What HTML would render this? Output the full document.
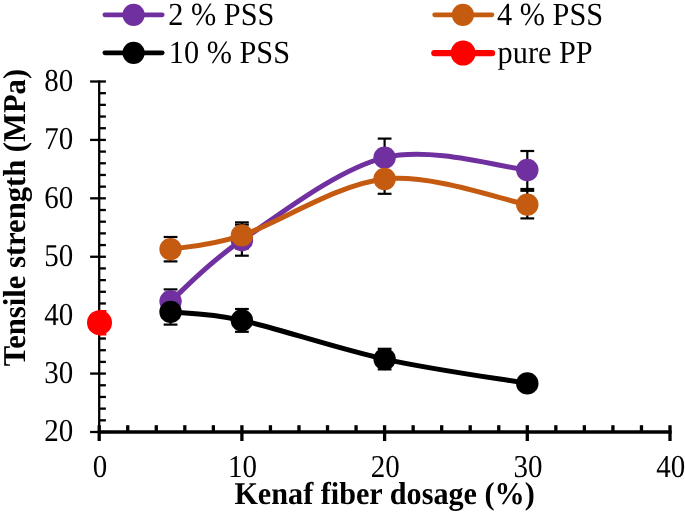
<!DOCTYPE html>
<html><head><meta charset="utf-8"><style>
html,body{margin:0;padding:0;background:#fff;width:685px;height:513px;overflow:hidden;}
svg{display:block;}
text{-webkit-font-smoothing:antialiased;text-rendering:geometricPrecision;}
.tg{opacity:0.999;}
</style></head><body><svg width="685" height="513" viewBox="0 0 685 513"><rect width="685" height="513" fill="#fff"/><line x1="99.20" y1="80.50" x2="99.20" y2="432.00" stroke="#000" stroke-width="2.3"/><line x1="90.1" y1="432.00" x2="105.9" y2="432.00" stroke="#000" stroke-width="2.3"/><line x1="99.20" y1="420.32" x2="105.9" y2="420.32" stroke="#000" stroke-width="2.3"/><line x1="99.20" y1="408.63" x2="105.9" y2="408.63" stroke="#000" stroke-width="2.3"/><line x1="99.20" y1="396.95" x2="105.9" y2="396.95" stroke="#000" stroke-width="2.3"/><line x1="99.20" y1="385.27" x2="105.9" y2="385.27" stroke="#000" stroke-width="2.3"/><line x1="90.1" y1="373.58" x2="105.9" y2="373.58" stroke="#000" stroke-width="2.3"/><line x1="99.20" y1="361.90" x2="105.9" y2="361.90" stroke="#000" stroke-width="2.3"/><line x1="99.20" y1="350.22" x2="105.9" y2="350.22" stroke="#000" stroke-width="2.3"/><line x1="99.20" y1="338.53" x2="105.9" y2="338.53" stroke="#000" stroke-width="2.3"/><line x1="99.20" y1="326.85" x2="105.9" y2="326.85" stroke="#000" stroke-width="2.3"/><line x1="90.1" y1="315.17" x2="105.9" y2="315.17" stroke="#000" stroke-width="2.3"/><line x1="99.20" y1="303.48" x2="105.9" y2="303.48" stroke="#000" stroke-width="2.3"/><line x1="99.20" y1="291.80" x2="105.9" y2="291.80" stroke="#000" stroke-width="2.3"/><line x1="99.20" y1="280.12" x2="105.9" y2="280.12" stroke="#000" stroke-width="2.3"/><line x1="99.20" y1="268.43" x2="105.9" y2="268.43" stroke="#000" stroke-width="2.3"/><line x1="90.1" y1="256.75" x2="105.9" y2="256.75" stroke="#000" stroke-width="2.3"/><line x1="99.20" y1="245.07" x2="105.9" y2="245.07" stroke="#000" stroke-width="2.3"/><line x1="99.20" y1="233.38" x2="105.9" y2="233.38" stroke="#000" stroke-width="2.3"/><line x1="99.20" y1="221.70" x2="105.9" y2="221.70" stroke="#000" stroke-width="2.3"/><line x1="99.20" y1="210.02" x2="105.9" y2="210.02" stroke="#000" stroke-width="2.3"/><line x1="90.1" y1="198.33" x2="105.9" y2="198.33" stroke="#000" stroke-width="2.3"/><line x1="99.20" y1="186.65" x2="105.9" y2="186.65" stroke="#000" stroke-width="2.3"/><line x1="99.20" y1="174.97" x2="105.9" y2="174.97" stroke="#000" stroke-width="2.3"/><line x1="99.20" y1="163.28" x2="105.9" y2="163.28" stroke="#000" stroke-width="2.3"/><line x1="99.20" y1="151.60" x2="105.9" y2="151.60" stroke="#000" stroke-width="2.3"/><line x1="90.1" y1="139.92" x2="105.9" y2="139.92" stroke="#000" stroke-width="2.3"/><line x1="99.20" y1="128.23" x2="105.9" y2="128.23" stroke="#000" stroke-width="2.3"/><line x1="99.20" y1="116.55" x2="105.9" y2="116.55" stroke="#000" stroke-width="2.3"/><line x1="99.20" y1="104.87" x2="105.9" y2="104.87" stroke="#000" stroke-width="2.3"/><line x1="99.20" y1="93.18" x2="105.9" y2="93.18" stroke="#000" stroke-width="2.3"/><line x1="90.1" y1="81.50" x2="105.9" y2="81.50" stroke="#000" stroke-width="2.3"/><line x1="98.20" y1="432.00" x2="671.60" y2="432.00" stroke="#000" stroke-width="3.3"/><line x1="99.20" y1="425.2" x2="99.20" y2="441" stroke="#000" stroke-width="3.3"/><line x1="127.74" y1="425.2" x2="127.74" y2="432.00" stroke="#000" stroke-width="3.3"/><line x1="156.28" y1="425.2" x2="156.28" y2="432.00" stroke="#000" stroke-width="3.3"/><line x1="184.82" y1="425.2" x2="184.82" y2="432.00" stroke="#000" stroke-width="3.3"/><line x1="213.36" y1="425.2" x2="213.36" y2="432.00" stroke="#000" stroke-width="3.3"/><line x1="241.90" y1="425.2" x2="241.90" y2="441" stroke="#000" stroke-width="3.3"/><line x1="270.44" y1="425.2" x2="270.44" y2="432.00" stroke="#000" stroke-width="3.3"/><line x1="298.98" y1="425.2" x2="298.98" y2="432.00" stroke="#000" stroke-width="3.3"/><line x1="327.52" y1="425.2" x2="327.52" y2="432.00" stroke="#000" stroke-width="3.3"/><line x1="356.06" y1="425.2" x2="356.06" y2="432.00" stroke="#000" stroke-width="3.3"/><line x1="384.60" y1="425.2" x2="384.60" y2="441" stroke="#000" stroke-width="3.3"/><line x1="413.14" y1="425.2" x2="413.14" y2="432.00" stroke="#000" stroke-width="3.3"/><line x1="441.68" y1="425.2" x2="441.68" y2="432.00" stroke="#000" stroke-width="3.3"/><line x1="470.22" y1="425.2" x2="470.22" y2="432.00" stroke="#000" stroke-width="3.3"/><line x1="498.76" y1="425.2" x2="498.76" y2="432.00" stroke="#000" stroke-width="3.3"/><line x1="527.30" y1="425.2" x2="527.30" y2="441" stroke="#000" stroke-width="3.3"/><line x1="555.84" y1="425.2" x2="555.84" y2="432.00" stroke="#000" stroke-width="3.3"/><line x1="584.38" y1="425.2" x2="584.38" y2="432.00" stroke="#000" stroke-width="3.3"/><line x1="612.92" y1="425.2" x2="612.92" y2="432.00" stroke="#000" stroke-width="3.3"/><line x1="641.46" y1="425.2" x2="641.46" y2="432.00" stroke="#000" stroke-width="3.3"/><line x1="670.00" y1="425.2" x2="670.00" y2="441" stroke="#000" stroke-width="3.3"/><line x1="170.55" y1="289.40" x2="170.55" y2="313.20" stroke="#000" stroke-width="2.2"/><line x1="163.65" y1="289.40" x2="177.45" y2="289.40" stroke="#000" stroke-width="2.2"/><line x1="163.65" y1="313.20" x2="177.45" y2="313.20" stroke="#000" stroke-width="2.2"/><line x1="241.90" y1="224.70" x2="241.90" y2="255.70" stroke="#000" stroke-width="2.2"/><line x1="235.00" y1="224.70" x2="248.80" y2="224.70" stroke="#000" stroke-width="2.2"/><line x1="235.00" y1="255.70" x2="248.80" y2="255.70" stroke="#000" stroke-width="2.2"/><line x1="384.60" y1="138.60" x2="384.60" y2="176.60" stroke="#000" stroke-width="2.2"/><line x1="377.70" y1="138.60" x2="391.50" y2="138.60" stroke="#000" stroke-width="2.2"/><line x1="377.70" y1="176.60" x2="391.50" y2="176.60" stroke="#000" stroke-width="2.2"/><line x1="527.30" y1="151.00" x2="527.30" y2="189.00" stroke="#000" stroke-width="2.2"/><line x1="520.40" y1="151.00" x2="534.20" y2="151.00" stroke="#000" stroke-width="2.2"/><line x1="520.40" y1="189.00" x2="534.20" y2="189.00" stroke="#000" stroke-width="2.2"/><line x1="170.55" y1="237.00" x2="170.55" y2="261.40" stroke="#000" stroke-width="2.2"/><line x1="163.65" y1="237.00" x2="177.45" y2="237.00" stroke="#000" stroke-width="2.2"/><line x1="163.65" y1="261.40" x2="177.45" y2="261.40" stroke="#000" stroke-width="2.2"/><line x1="241.90" y1="222.40" x2="241.90" y2="248.40" stroke="#000" stroke-width="2.2"/><line x1="235.00" y1="222.40" x2="248.80" y2="222.40" stroke="#000" stroke-width="2.2"/><line x1="235.00" y1="248.40" x2="248.80" y2="248.40" stroke="#000" stroke-width="2.2"/><line x1="384.60" y1="164.20" x2="384.60" y2="193.80" stroke="#000" stroke-width="2.2"/><line x1="377.70" y1="164.20" x2="391.50" y2="164.20" stroke="#000" stroke-width="2.2"/><line x1="377.70" y1="193.80" x2="391.50" y2="193.80" stroke="#000" stroke-width="2.2"/><line x1="527.30" y1="190.80" x2="527.30" y2="218.40" stroke="#000" stroke-width="2.2"/><line x1="520.40" y1="190.80" x2="534.20" y2="190.80" stroke="#000" stroke-width="2.2"/><line x1="520.40" y1="218.40" x2="534.20" y2="218.40" stroke="#000" stroke-width="2.2"/><line x1="170.55" y1="299.20" x2="170.55" y2="324.60" stroke="#000" stroke-width="2.2"/><line x1="163.65" y1="299.20" x2="177.45" y2="299.20" stroke="#000" stroke-width="2.2"/><line x1="163.65" y1="324.60" x2="177.45" y2="324.60" stroke="#000" stroke-width="2.2"/><line x1="241.90" y1="309.00" x2="241.90" y2="331.80" stroke="#000" stroke-width="2.2"/><line x1="235.00" y1="309.00" x2="248.80" y2="309.00" stroke="#000" stroke-width="2.2"/><line x1="235.00" y1="331.80" x2="248.80" y2="331.80" stroke="#000" stroke-width="2.2"/><line x1="384.60" y1="348.80" x2="384.60" y2="369.40" stroke="#000" stroke-width="2.2"/><line x1="377.70" y1="348.80" x2="391.50" y2="348.80" stroke="#000" stroke-width="2.2"/><line x1="377.70" y1="369.40" x2="391.50" y2="369.40" stroke="#000" stroke-width="2.2"/><line x1="527.30" y1="378.40" x2="527.30" y2="388.40" stroke="#000" stroke-width="2.2"/><line x1="520.40" y1="378.40" x2="534.20" y2="378.40" stroke="#000" stroke-width="2.2"/><line x1="520.40" y1="388.40" x2="534.20" y2="388.40" stroke="#000" stroke-width="2.2"/><clipPath id="pc"><rect x="98.3" y="60" width="600" height="380"/></clipPath><g clip-path="url(#pc)"><line x1="99.50" y1="311.00" x2="99.50" y2="334.40" stroke="#FF0000" stroke-width="2.2"/><line x1="92.60" y1="311.00" x2="106.40" y2="311.00" stroke="#FF0000" stroke-width="2.2"/><line x1="92.60" y1="334.40" x2="106.40" y2="334.40" stroke="#FF0000" stroke-width="2.2"/></g><path d="M170.55,301.30 C182.44,291.12 206.22,264.15 241.90,240.20 C277.57,216.25 337.03,169.30 384.60,157.60 C432.17,145.90 503.52,167.93 527.30,170.00" fill="none" stroke="#7030A0" stroke-width="5.0" stroke-linecap="round" stroke-linejoin="round"/><circle cx="170.55" cy="301.30" r="11.2" fill="#7030A0"/><circle cx="241.90" cy="240.20" r="11.2" fill="#7030A0"/><circle cx="384.60" cy="157.60" r="11.2" fill="#7030A0"/><circle cx="527.30" cy="170.00" r="11.2" fill="#7030A0"/><path d="M170.55,249.20 C182.44,246.90 206.22,247.10 241.90,235.40 C277.57,223.70 337.03,184.13 384.60,179.00 C432.17,173.87 503.52,200.33 527.30,204.60" fill="none" stroke="#C55A11" stroke-width="5.0" stroke-linecap="round" stroke-linejoin="round"/><circle cx="170.55" cy="249.20" r="11.2" fill="#C55A11"/><circle cx="241.90" cy="235.40" r="11.2" fill="#C55A11"/><circle cx="384.60" cy="179.00" r="11.2" fill="#C55A11"/><circle cx="527.30" cy="204.60" r="11.2" fill="#C55A11"/><path d="M170.55,311.90 C182.44,313.32 206.22,312.53 241.90,320.40 C277.57,328.27 337.03,348.60 384.60,359.10 C432.17,369.60 503.52,379.35 527.30,383.40" fill="none" stroke="#000000" stroke-width="5.0" stroke-linecap="round" stroke-linejoin="round"/><circle cx="170.55" cy="311.90" r="11.2" fill="#000000"/><circle cx="241.90" cy="320.40" r="11.2" fill="#000000"/><circle cx="384.60" cy="359.10" r="11.2" fill="#000000"/><circle cx="527.30" cy="383.40" r="11.2" fill="#000000"/><circle cx="99.50" cy="322.70" r="12.5" fill="#FF0000"/><line x1="104.9" y1="14.8" x2="162.2" y2="14.8" stroke="#7030A0" stroke-width="4.8" stroke-linecap="round"/><circle cx="133.6" cy="14.8" r="11.1" fill="#7030A0"/><line x1="434.7" y1="14.8" x2="491.90000000000003" y2="14.8" stroke="#C55A11" stroke-width="4.8" stroke-linecap="round"/><circle cx="462.9" cy="14.8" r="11.1" fill="#C55A11"/><line x1="104.9" y1="52.8" x2="162.2" y2="52.8" stroke="#000000" stroke-width="4.8" stroke-linecap="round"/><circle cx="133.6" cy="52.8" r="11.1" fill="#000000"/><line x1="434.4" y1="53.1" x2="492.0" y2="53.1" stroke="#FF0000" stroke-width="6.4" stroke-linecap="round"/><circle cx="463.1" cy="53.1" r="12.5" fill="#FF0000"/><g class="tg"><text transform="translate(73.20,441.40) scale(1,1.1)" text-anchor="end" font-family='"Liberation Serif", serif' font-size="29">20</text><text transform="translate(73.20,382.98) scale(1,1.1)" text-anchor="end" font-family='"Liberation Serif", serif' font-size="29">30</text><text transform="translate(73.20,324.57) scale(1,1.1)" text-anchor="end" font-family='"Liberation Serif", serif' font-size="29">40</text><text transform="translate(73.20,266.15) scale(1,1.1)" text-anchor="end" font-family='"Liberation Serif", serif' font-size="29">50</text><text transform="translate(73.20,207.73) scale(1,1.1)" text-anchor="end" font-family='"Liberation Serif", serif' font-size="29">60</text><text transform="translate(73.20,149.32) scale(1,1.1)" text-anchor="end" font-family='"Liberation Serif", serif' font-size="29">70</text><text transform="translate(73.20,90.90) scale(1,1.1)" text-anchor="end" font-family='"Liberation Serif", serif' font-size="29">80</text><text transform="translate(99.90,476.60) scale(1,1.1)" text-anchor="middle" font-family='"Liberation Serif", serif' font-size="29">0</text><text transform="translate(242.60,476.60) scale(1,1.1)" text-anchor="middle" font-family='"Liberation Serif", serif' font-size="29">10</text><text transform="translate(385.30,476.60) scale(1,1.1)" text-anchor="middle" font-family='"Liberation Serif", serif' font-size="29">20</text><text transform="translate(528.00,476.60) scale(1,1.1)" text-anchor="middle" font-family='"Liberation Serif", serif' font-size="29">30</text><text transform="translate(670.70,476.60) scale(1,1.1)" text-anchor="middle" font-family='"Liberation Serif", serif' font-size="29">40</text><text transform="translate(384.60,504.00) scale(1,1.05)" text-anchor="middle" font-family='"Liberation Serif", serif' font-size="30.2" font-weight="bold">Kenaf fiber dosage (%)</text><text transform="translate(25.10,217.60) rotate(-90) scale(1,1.04)" text-anchor="middle" font-family='"Liberation Serif", serif' font-size="30.6" font-weight="bold">Tensile strength (MPa)</text><text transform="translate(168.30,25.10) scale(1,1.064)" text-anchor="start" font-family='"Liberation Serif", serif' font-size="30.3">2 % PSS</text><text transform="translate(497.00,25.10) scale(1,1.064)" text-anchor="start" font-family='"Liberation Serif", serif' font-size="30.3">4 % PSS</text><text transform="translate(168.80,63.10) scale(1,1.064)" text-anchor="start" font-family='"Liberation Serif", serif' font-size="30.3">10 % PSS</text><text transform="translate(497.60,63.10) scale(1,1.064)" text-anchor="start" font-family='"Liberation Serif", serif' font-size="30.3">pure PP</text></g></svg></body></html>
